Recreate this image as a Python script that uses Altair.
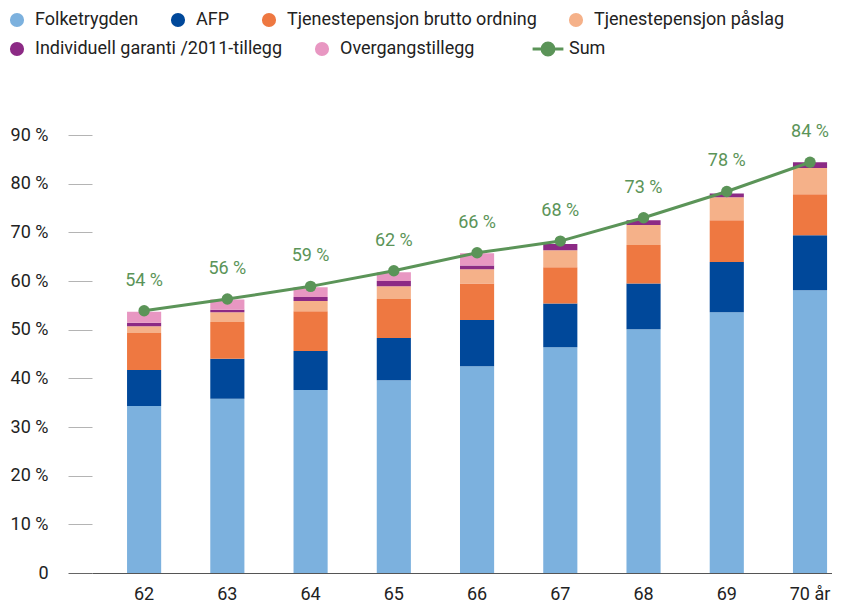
import altair as alt
import pandas as pd

ages = ["62", "63", "64", "65", "66", "67", "68", "69", "70 år"]
folketrygden = [34.3, 35.8, 37.6, 39.6, 42.5, 46.4, 50.1, 53.6, 58.1]
afp = [7.4, 8.2, 8.0, 8.7, 9.5, 9.0, 9.4, 10.3, 11.3]
tp_brutto = [7.6, 7.6, 8.2, 8.0, 7.5, 7.4, 7.9, 8.6, 8.4]
tp_paaslag = [1.4, 2.0, 2.1, 2.6, 2.9, 3.5, 4.1, 4.7, 5.4]
individuell = [0.7, 0.5, 0.8, 1.1, 0.8, 1.3, 1.0, 0.8, 1.2]
overgang = [2.3, 2.1, 2.0, 1.8, 2.5, 0.0, 0.0, 0.0, 0.0]
sum_total = [53.9, 56.3, 58.9, 62.1, 65.8, 68.2, 73.0, 78.4, 84.4]

series_names = [
    "Folketrygden",
    "AFP",
    "Tjenestepensjon brutto ordning",
    "Tjenestepensjon påslag",
    "Individuell garanti /2011-tillegg",
    "Overgangstillegg",
]
colors = ["#7cb1de", "#00489a", "#ee7841", "#f5b189", "#8c2a85", "#e897c2"]
GREEN = "#5b9458"
FONT = "Roboto"

series_values = [folketrygden, afp, tp_brutto, tp_paaslag, individuell, overgang]
rows = []
for i, a in enumerate(ages):
    for k, (name, vals) in enumerate(zip(series_names, series_values)):
        rows.append({"age": a, "series": name, "value": vals[i], "order": k})
bars_df = pd.DataFrame(rows)
sum_df = pd.DataFrame({"age": ages, "series": "Sum", "total": sum_total})

row1_names = series_names[:4]
row1_colors = colors[:4]
row2_names = series_names[4:]
row2_colors = colors[4:]

x_enc = alt.X(
    "age:N",
    sort=ages,
    title=None,
    scale=alt.Scale(paddingInner=0.59, paddingOuter=0.24, align=0.877),
    axis=alt.Axis(
        labelAngle=0,
        ticks=False,
        domain=True,
        domainColor="#555555",
        domainWidth=1,
        labelFontSize=18,
        labelFont=FONT,
        labelColor="#222222",
        labelPadding=12,
    ),
)

y_scale = alt.Scale(domain=[0, 90], nice=False)


def make_legend(x, y):
    return alt.Legend(
        title=None,
        orient="none",
        legendX=x,
        legendY=y,
        padding=0,
        direction="horizontal",
        symbolType="circle",
        symbolSize=200,
        symbolStrokeWidth=0,
        symbolOpacity=1,
        labelFontSize=18,
        labelFont=FONT,
        labelColor="#222222",
        labelLimit=400,
        labelOffset=9,
        columnPadding=30,
    )


sum_legend = alt.Legend(
    title=None,
    orient="none",
    legendX=447,
    legendY=-95,
    padding=0,
    symbolType="M-2.2,0L2.2,0M-0.85,0A0.85,0.85,0,1,1,0.85,0A0.85,0.85,0,1,1,-0.85,0Z",
    symbolSize=196,
    symbolFillColor=GREEN,
    symbolStrokeColor=GREEN,
    symbolStrokeWidth=3,
    symbolOpacity=1,
    labelFontSize=18,
    labelFont=FONT,
    labelColor="#222222",
    labelOffset=12,
)

stacked = alt.Chart(bars_df).transform_stack(
    stack="value",
    groupby=["age"],
    as_=["y0", "y1"],
    sort=[alt.SortField("order", order="ascending")],
)

bars_a = stacked.transform_filter(
    alt.FieldOneOfPredicate(field="series", oneOf=row1_names)
).mark_bar().encode(
    x=x_enc,
    y=alt.Y(
        "y0:Q",
        scale=y_scale,
        title=None,
        axis=alt.Axis(
            values=list(range(0, 100, 10)),
            labelExpr="datum.value == 0 ? '0' : datum.value + ' %'",
            domain=False,
            grid=False,
            tickSize=24,
            tickWidth=1,
            tickColor={"condition": {"test": "datum.value === 0", "value": "#666666"}, "value": "#b4b4b4"},
            labelPadding=20,
            labelFontSize=18,
            labelFont=FONT,
            labelColor="#222222",
        ),
    ),
    y2="y1:Q",
    fill=alt.Fill(
        "series:N",
        scale=alt.Scale(domain=row1_names, range=row1_colors),
        legend=make_legend(-84, -124),
        sort=row1_names,
    ),
)

bars_b = stacked.transform_filter(
    alt.FieldOneOfPredicate(field="series", oneOf=row2_names)
).mark_bar().encode(
    x=alt.X("age:N", sort=ages),
    y=alt.Y("y0:Q", scale=y_scale),
    y2="y1:Q",
    fill=alt.Fill(
        "series:N",
        scale=alt.Scale(domain=row2_names, range=row2_colors),
        legend=make_legend(-84, -95),
        sort=row2_names,
    ),
)

line = alt.Chart(sum_df).mark_line(strokeWidth=3).encode(
    x=alt.X("age:N", sort=ages),
    y=alt.Y("total:Q", scale=y_scale),
    stroke=alt.Stroke("series:N", scale=alt.Scale(domain=["Sum"], range=[GREEN]), legend=sum_legend),
)

points = alt.Chart(sum_df).mark_circle(size=130, opacity=1, color=GREEN).encode(
    x=alt.X("age:N", sort=ages),
    y=alt.Y("total:Q", scale=y_scale),
)

labels = alt.Chart(sum_df).transform_calculate(
    label="format(datum.total, '.0f') + ' %'"
).mark_text(dy=-30, fontSize=18, font=FONT, color=GREEN).encode(
    x=alt.X("age:N", sort=ages),
    y=alt.Y("total:Q", scale=y_scale),
    text="label:N",
)

chart = (
    alt.layer(bars_a, bars_b, line, points, labels)
    .resolve_scale(fill="independent", stroke="independent")
    .properties(
        width=740,
        height=438,
        background="white",
        padding={"top": 3, "left": 0, "right": 0, "bottom": 0},
    )
    .configure_view(stroke=None)
)

chart.save("out.html", embed_options={"renderer": "svg", "actions": False})
